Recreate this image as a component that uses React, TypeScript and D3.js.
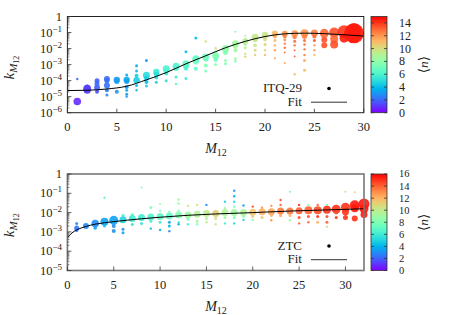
import React from "react";
import * as d3 from "d3";

// ---------- DATA ----------
// [M12, log10(k), <n>, marker radius]
const itqPoints: [number, number, number, number][] = [
  [1, -5.3, 0.8, 3.8], [1, -3.9, 2, 1.2],
  [2, -4.4, 1.5, 2.5], [2, -4.6, 1.2, 3.5], [2, -4.5, 1.2, 4],
  [3, -4.0, 1.8, 2.5], [3, -4.2, 2, 2.5], [3, -4.45, 1.8, 3], [3, -4.7, 1.5, 2],
  [4, -3.9, 2, 3], [4, -4.0, 2.2, 2.5], [4, -4.3, 2.2, 3], [4, -4.6, 2.5, 2], [4, -4.9, 2.8, 1.5],
  [5, -3.95, 3, 3.2], [5, -4.05, 3.2, 2.5], [5, -4.7, 3, 2],
  [6, -3.65, 3.5, 1.5], [6, -3.95, 3.5, 3.2], [6, -4.05, 3.2, 2.5], [6, -4.4, 3, 2], [6, -4.6, 3.5, 1.5], [6, -4.85, 3, 1.5], [6, -5.0, 3, 1.2],
  [7, -3.07, 3.5, 1.5], [7, -3.4, 4, 1.5], [7, -3.7, 4.5, 2], [7, -3.98, 4.5, 3.2], [7, -4.3, 4, 1.5], [7, -4.6, 4, 1.2],
  [8, -2.75, 3, 1.5], [8, -3.67, 5, 3.5], [8, -3.85, 4.5, 2.5], [8, -4.08, 4, 2], [8, -4.33, 4.5, 1.5],
  [9, -3.46, 5.5, 3.2], [9, -3.6, 5, 2.5], [9, -3.8, 5, 2], [9, -4.1, 4.5, 1.5],
  [10, -3.26, 6, 3.5], [10, -3.4, 6, 2.5], [10, -3.55, 5.5, 2], [10, -4.0, 5, 1.5],
  [11, -3.1, 6, 3.5], [11, -3.25, 6, 2.5], [11, -3.77, 5.5, 1.5], [11, -4.2, 6, 1.2],
  [12, -2.2, 4, 1.5], [12, -2.95, 6.5, 3.5], [12, -3.1, 6.5, 3], [12, -3.26, 6, 2], [12, -3.87, 5.5, 1.5],
  [13, -1.34, 4, 1.5], [13, -2.64, 6.5, 3.5], [13, -2.8, 7, 3], [13, -3.26, 6.5, 2],
  [14, -1.56, 10, 1.2], [14, -2.53, 7, 3.5], [14, -2.65, 7, 2.5], [14, -3.05, 7.5, 2], [14, -3.4, 7.5, 1.5],
  [15, -1.98, 10, 1.2], [15, -2.2, 8, 1.5], [15, -2.43, 7.5, 3.5], [15, -2.55, 7.5, 2.5], [15, -2.72, 7, 2], [15, -3.0, 7.5, 1.5],
  [16, -2.0, 8, 3.5], [16, -2.1, 8, 3], [16, -2.25, 7.5, 2.5], [16, -2.74, 8, 1.5], [16, -2.95, 7.5, 1.5],
  [17, -0.95, 7, 1], [17, -1.7, 8.5, 3.5], [17, -1.85, 8.5, 2.5], [17, -2.1, 8.5, 2], [17, -2.64, 8.5, 1.5], [17, -2.8, 7, 1.2],
  [18, -1.2, 10, 1], [18, -1.4, 10, 1.2], [18, -1.55, 9, 3], [18, -1.7, 9, 2], [18, -1.95, 9, 1.5], [18, -2.33, 10, 1.2], [18, -2.5, 10.5, 1.2],
  [19, -1.3, 9.5, 3.5], [19, -1.45, 9.5, 2.5], [19, -1.8, 9.5, 1.8], [19, -2.1, 10, 1.5], [19, -2.4, 10.5, 1.2],
  [20, -1.15, 9.5, 3.2], [20, -1.3, 10, 2.2], [20, -1.45, 10, 1.8], [20, -1.75, 10.5, 1.5], [20, -2.1, 10.5, 1.2], [20, -2.4, 11, 1.2],
  [21, -1.08, 11, 3.2], [21, -1.25, 11.5, 2], [21, -1.5, 11, 1.5], [21, -1.8, 11.5, 1.2], [21, -2.1, 12, 1.2], [21, -2.6, 12, 1],
  [22, -1.08, 12, 3], [22, -1.25, 12.5, 2], [22, -1.45, 12, 1.5], [22, -1.7, 12.5, 1.2], [22, -1.95, 13, 1.2], [22, -2.25, 13, 1], [22, -2.9, 12, 1],
  [23, -1.08, 12, 3.5], [23, -1.3, 12.5, 2], [23, -1.55, 13, 1.5], [23, -1.8, 13, 1.2], [23, -2.1, 13, 1], [23, -2.5, 13, 1], [23, -3.6, 11, 1.2],
  [24, -1.05, 12, 4], [24, -1.25, 12.5, 2.5], [24, -1.5, 13, 1.5], [24, -1.75, 13, 1.2], [24, -2.05, 13, 1.2], [24, -2.4, 12.5, 1.2], [24, -2.75, 11.5, 1.5], [24, -3.35, 11, 1.5],
  [25, -1.03, 12.5, 3.5], [25, -1.25, 13, 2], [25, -1.5, 13.5, 1.5], [25, -1.8, 12, 1.2], [25, -2.1, 12, 1.2], [25, -2.4, 11, 1.2],
  [26, -1.05, 13, 4.5], [26, -1.45, 13.5, 3], [26, -1.8, 13.5, 3],
  [27, -1.0, 13.5, 5], [27, -1.4, 13, 4], [27, -1.75, 13.5, 4],
  [28, -0.95, 14, 6.5], [28, -1.35, 14.5, 4.5],
  [29, -0.85, 14.5, 7], [29, -1.05, 14.5, 10], [29, -1.2, 14.5, 7],
];

const itqFitM = [0, 2, 4, 6, 8, 10, 12, 14, 16, 18, 20, 22, 24, 26, 28, 30];
const itqFitLogK = [-4.62, -4.6, -4.52, -4.35, -3.95, -3.5, -2.95, -2.45, -1.95, -1.55, -1.25, -1.08, -1.04, -1.07, -1.14, -1.22];

const ztcPoints: [number, number, number, number][] = [
  [1, -2.57, 3, 1.5], [1, -2.8, 2.5, 2.5], [1, -2.9, 2.5, 2],
  [2, -2.69, 3, 3],
  [3, -2.57, 3, 3.8], [3, -2.8, 3.5, 1.8],
  [4, -1.23, 7, 1.2], [4, -2.48, 3.5, 4], [4, -2.69, 4.5, 1.5],
  [5, -2.4, 3.5, 4.5], [5, -2.7, 3, 2], [5, -2.95, 3, 2],
  [6, -2.14, 6.5, 1.5], [6, -2.37, 5, 3.5], [6, -2.86, 3, 1.5], [6, -3.05, 3.5, 1.5],
  [7, -2.1, 7, 1.5], [7, -2.3, 6, 3.5], [7, -2.62, 5.5, 1.5],
  [8, -0.7, 8, 1], [8, -2.25, 6, 3.5], [8, -2.56, 5.5, 1.5],
  [9, -1.73, 8, 1.5], [9, -2.23, 6.5, 3.5], [9, -2.45, 6, 1.5], [9, -2.83, 4, 1.2],
  [10, -1.56, 8.5, 1], [10, -1.9, 8, 1.2], [10, -2.2, 7, 3.5], [10, -2.5, 6, 1.5], [10, -2.9, 4, 1.2],
  [11, -1.96, 8, 1.2], [11, -2.18, 7, 3.5], [11, -2.5, 3.5, 1.5], [11, -2.7, 4, 1.5], [11, -2.96, 3, 1.2],
  [12, -1.32, 9, 1.2], [12, -1.53, 9, 1.2], [12, -1.9, 8.5, 1.2], [12, -2.13, 8, 3.5], [12, -2.5, 6, 1.2], [12, -2.6, 3.5, 1.2],
  [13, -1.65, 10.5, 1.2], [13, -2.12, 9, 3.5], [13, -2.35, 8, 1.5], [13, -2.6, 6, 1.2],
  [14, -1.6, 10.5, 1.2], [14, -2.08, 9.5, 3.5], [14, -2.45, 9, 1.5], [14, -2.6, 8, 1.2],
  [15, -1.6, 3, 1.2], [15, -2.05, 10, 3.5], [15, -2.3, 9.5, 1.5], [15, -2.5, 10, 1.2],
  [16, -1.93, 12, 1.2], [16, -2.05, 11, 3.5], [16, -2.3, 10.5, 1.5], [16, -2.6, 10, 1.2],
  [17, -1.44, 5, 1.2], [17, -1.77, 9, 1.2], [17, -2.0, 9.5, 3.5], [17, -2.25, 9, 1.5], [17, -2.56, 6, 1.2],
  [18, -0.87, 3, 1.2], [18, -1.15, 4, 1.2], [18, -1.44, 5, 1.2], [18, -1.7, 8, 1.2], [18, -2.0, 9, 3.5], [18, -2.25, 8, 1.5], [18, -2.56, 5, 1.2],
  [19, -1.63, 3.5, 1.2], [19, -2.0, 9.5, 3.5], [19, -2.2, 8.5, 1.5], [19, -2.38, 5, 1.2],
  [20, -1.69, 14.5, 1.2], [20, -1.98, 11.5, 3.5], [20, -2.2, 11, 1.5], [20, -2.38, 8.5, 1.2],
  [21, -1.75, 13, 1.2], [21, -1.95, 12, 3.5], [21, -2.25, 11.5, 1.5],
  [22, -1.65, 13, 1.2], [22, -1.95, 12.5, 3.5], [22, -2.15, 12, 1.5], [22, -2.4, 13, 1.2],
  [23, -1.35, 14.5, 1.2], [23, -1.6, 14, 1.2], [23, -1.92, 13.5, 3.5], [23, -2.15, 12.5, 1.5],
  [24, -0.92, 7, 1], [24, -1.92, 13.5, 3.5], [24, -2.15, 12, 1.5], [24, -2.4, 9, 1.2],
  [25, -1.6, 15, 1.2], [25, -1.9, 14, 3.5], [25, -2.25, 14.5, 1.5], [25, -2.56, 14, 1.2],
  [26, -1.6, 8, 1.2], [26, -1.88, 14, 4], [26, -2.2, 14.5, 1.5], [26, -2.5, 14, 1.2],
  [27, -1.6, 14, 1.2], [27, -1.88, 14.5, 4], [27, -2.2, 15, 1.5], [27, -2.5, 12, 1.5],
  [28, -1.6, 8, 1.2], [28, -1.85, 15, 4], [28, -2.2, 14.5, 1.5], [28, -2.5, 14, 1.5], [28, -2.73, 10, 1.2],
  [29, -1.82, 15, 4.5], [29, -2.0, 14.5, 2], [29, -2.26, 15, 1.5],
  [30, -0.92, 11, 1], [30, -1.72, 15, 4.5], [30, -1.96, 15, 3.5], [30, -2.25, 15, 2.5],
  [31, -0.95, 11, 1], [31, -1.62, 15.5, 5], [31, -1.78, 15.5, 4], [31, -2.3, 15, 3],
  [32, -1.55, 15.5, 5.5], [32, -1.8, 15.5, 4.5], [32, -2.1, 15.5, 3.5],
];

const ztcFitM = [0, 0.5, 1, 2, 3, 5, 8, 10, 13, 16, 20, 24, 28, 32];
const ztcFitLogK = [-3.3, -3.05, -2.9, -2.72, -2.6, -2.47, -2.32, -2.24, -2.14, -2.07, -2.0, -1.92, -1.86, -1.8];

const xTickValues = [0, 5, 10, 15, 20, 25, 30];
const itqYExponents = [-6, -5, -4, -3, -2, -1, 0];
const ztcYExponents = [-5, -4, -3, -2, -1, 0];
const itqColorTicks = [0, 2, 4, 6, 8, 10, 12, 14];
const ztcColorTicks = [0, 2, 4, 6, 8, 10, 12, 14, 16];

// ---------- STYLE ----------
const FONT = "'Liberation Serif', 'DejaVu Serif', serif";

// gnuplot rgbformulae 33,13,10
function palette(t: number): string {
  const x = Math.max(0, Math.min(1, t));
  const r = Math.min(1, Math.abs(2 * x - 0.5));
  const g = Math.max(0, Math.sin(Math.PI * x));
  const b = Math.max(0, Math.cos((Math.PI * x) / 2));
  return d3.rgb(r * 255, g * 255, b * 255).formatHex();
}

type PanelProps = {
  id: string;
  points: [number, number, number, number][];
  fitM: number[];
  fitLogK: number[];
  xMax: number;
  yExps: number[];
  cMax: number;
  cTicks: number[];
  cFont: number;
  top: number;
  bottom: number;
  legendLabel: string;
  frameColor: string;
  frameWidth: number;
};

const LEFT = 67.4;

function Sup({ exp }: { exp: number }) {
  if (exp === 0) return <tspan>1</tspan>;
  return (
    <>
      <tspan>10</tspan>
      <tspan fontSize={9} dy={-5}>{"\u2212" + Math.abs(exp)}</tspan>
    </>
  );
}

function Panel(p: PanelProps) {
  const right = p.xMax === 30 ? 363.8 : 364;
  const x = d3.scaleLinear().domain([0, p.xMax]).range([LEFT, right]);
  const minE = d3.min(p.yExps)!;
  const y = d3.scaleLog().domain([Math.pow(10, minE), 1]).range([p.bottom, p.top]);
  const cb = { x0: 371, x1: 387 };
  const c = d3.scaleLinear().domain([0, p.cMax]).range([p.bottom, p.top]);

  const fitData = p.fitM.map((m, i) => [m, Math.pow(10, p.fitLogK[i])] as [number, number]);
  const line = d3
    .line<[number, number]>()
    .x((d) => x(d[0]))
    .y((d) => y(d[1]))
    .curve(d3.curveMonotoneX);

  const minorTicks: number[] = [];
  for (let e = minE; e < 0; e++) {
    for (let k = 2; k <= 9; k++) minorTicks.push(k * Math.pow(10, e));
  }

  const gradStops = d3.range(0, 1.0001, 0.05);
  const midY = (p.top + p.bottom) / 2;

  return (
    <g>
      <defs>
        <linearGradient id={`grad-${p.id}`} x1="0" y1="1" x2="0" y2="0">
          {gradStops.map((t) => (
            <stop key={t} offset={t} stopColor={palette(t)} />
          ))}
        </linearGradient>
        <clipPath id={`clip-${p.id}`}>
          <rect x={LEFT} y={p.top} width={right - LEFT} height={p.bottom - p.top} />
        </clipPath>
      </defs>

      {/* points */}
      <g>
        {p.points.map((d, i) => (
          <circle
            key={i}
            cx={x(d[0])}
            cy={y(Math.pow(10, d[1]))}
            r={d[3]}
            fill={palette(d[2] / p.cMax)}
            fillOpacity={0.9}
          />
        ))}
      </g>

      {/* fit */}
      <path d={line(fitData) || ""} fill="none" stroke="#000" strokeWidth={1} clipPath={`url(#clip-${p.id})`} />

      {/* frame */}
      <rect x={LEFT} y={p.top} width={right - LEFT} height={p.bottom - p.top} fill="none" stroke={p.frameColor} strokeWidth={p.frameWidth} />

      {/* y ticks */}
      {p.yExps.map((e) => (
        <g key={e}>
          <line x1={LEFT} x2={LEFT + 4} y1={y(Math.pow(10, e))} y2={y(Math.pow(10, e))} stroke="#333" strokeWidth={0.8} />
          <text x={62} y={y(Math.pow(10, e)) + 4} textAnchor="end" fontFamily={FONT} fontSize={12.5} fill="#222">
            <Sup exp={e} />
          </text>
        </g>
      ))}
      {minorTicks.map((v, i) => (
        <line key={i} x1={LEFT} x2={LEFT + 2} y1={y(v)} y2={y(v)} stroke="#333" strokeWidth={0.6} />
      ))}

      {/* x ticks */}
      {xTickValues.map((v) => (
        <g key={v}>
          <line x1={x(v)} x2={x(v)} y1={p.bottom} y2={p.bottom - 4} stroke="#333" strokeWidth={0.8} />
          <text x={x(v)} y={p.bottom + 18} textAnchor="middle" fontFamily={FONT} fontSize={12.5} fill="#222">
            {v}
          </text>
        </g>
      ))}

      {/* axis labels */}
      <text transform={`translate(14,${midY + 3}) rotate(-90)`} textAnchor="middle" fontFamily={FONT} fontSize={15} fill="#222">
        <tspan fontStyle="italic">k</tspan>
        <tspan fontStyle="italic" fontSize={11} dy={3}>M</tspan>
        <tspan fontSize={8} dy={1.5}>12</tspan>
      </text>
      <text x={216} y={p.bottom + 40} textAnchor="middle" fontFamily={FONT} fontSize={14} fill="#222">
        <tspan fontStyle="italic">M</tspan>
        <tspan fontSize={10} dy={3}>12</tspan>
      </text>

      {/* legend */}
      <text x={302} y={p.top + 75.5} textAnchor="end" fontFamily={FONT} fontSize={13} fill="#222">
        {p.legendLabel}
      </text>
      <circle cx={329} cy={p.top + 72} r={1.8} fill="#000" />
      <text x={302} y={p.top + 89} textAnchor="end" fontFamily={FONT} fontSize={13} fill="#222">
        Fit
      </text>
      <line x1={311} x2={347} y1={p.top + 85.7} y2={p.top + 85.7} stroke="#333" strokeWidth={1} />

      {/* colorbar */}
      <rect x={cb.x0} y={p.top} width={cb.x1 - cb.x0} height={p.bottom - p.top} fill={`url(#grad-${p.id})`} stroke="#333" strokeWidth={0.8} />
      {p.cTicks.map((t) => (
        <g key={t}>
          <line x1={cb.x0} x2={cb.x0 + 3} y1={c(t)} y2={c(t)} stroke="#333" strokeWidth={0.8} />
          <line x1={cb.x1} x2={cb.x1 - 3} y1={c(t)} y2={c(t)} stroke="#333" strokeWidth={0.8} />
          <text x={399} y={c(t) + p.cFont * 0.33} fontFamily={FONT} fontSize={p.cFont} fill="#222">
            {t}
          </text>
        </g>
      ))}
      <text transform={`translate(428,${midY}) rotate(-90)`} textAnchor="middle" fontFamily={FONT} fontSize={13.5} fill="#222">
        {"\u27E8"}
        <tspan fontStyle="italic">n</tspan>
        {"\u27E9"}
      </text>
    </g>
  );
}

export default function App() {
  return (
    <svg width={450} height={315} style={{ position: "absolute", left: 0, top: 0, background: "#fff" }}>
      <rect width={450} height={315} fill="#fff" />
      <Panel
        id="itq"
        points={itqPoints}
        fitM={itqFitM}
        fitLogK={itqFitLogK}
        xMax={30}
        yExps={itqYExponents}
        cMax={15}
        cTicks={itqColorTicks}
        cFont={12}
        top={16.5}
        bottom={112.7}
        legendLabel="ITQ-29"
        frameColor="#222"
        frameWidth={1}
      />
      <Panel
        id="ztc"
        points={ztcPoints}
        fitM={ztcFitM}
        fitLogK={ztcFitLogK}
        xMax={32}
        yExps={ztcYExponents}
        cMax={16}
        cTicks={ztcColorTicks}
        cFont={10.5}
        top={174}
        bottom={270.5}
        legendLabel="ZTC"
        frameColor="#777"
        frameWidth={1.6}
      />
    </svg>
  );
}
